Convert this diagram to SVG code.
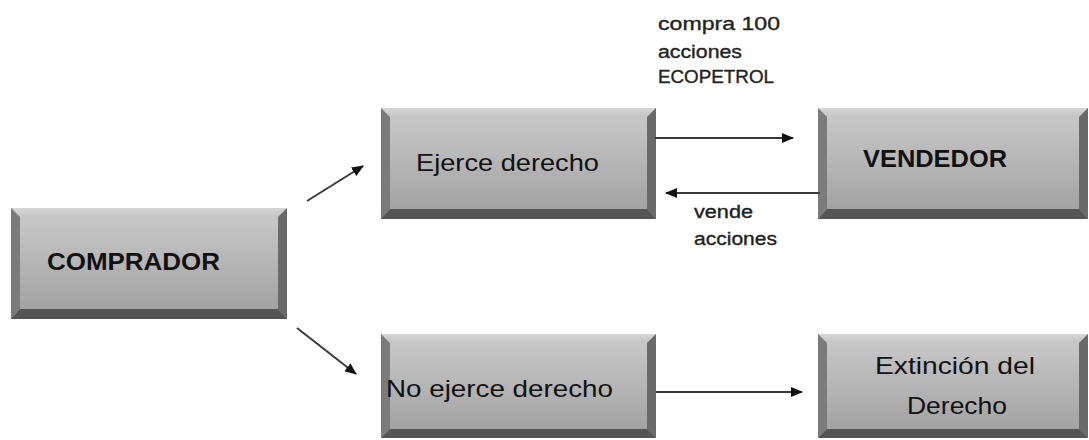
<svg xmlns="http://www.w3.org/2000/svg" width="1089" height="440" viewBox="0 0 1089 440">
<defs>
<linearGradient id="face" x1="0" y1="0" x2="0" y2="1">
<stop offset="0" stop-color="#cbcbcb"/>
<stop offset="1" stop-color="#9f9f9f"/>
</linearGradient>
<linearGradient id="topg" x1="0" y1="0" x2="0" y2="1">
<stop offset="0" stop-color="#d6d6d6"/>
<stop offset="1" stop-color="#c4c4c4"/>
</linearGradient>
<marker id="ah" markerUnits="userSpaceOnUse" markerWidth="12" markerHeight="10" viewBox="0 0 12 10" refX="11" refY="5" orient="auto">
<path d="M0,0 L12,5 L0,10 Z" fill="#111"/>
</marker>
<style>
.face{fill:url(#face)}
.bt{fill:url(#topg)}
.bl{fill:#7b7b7b}
.br{fill:#6a6a6a}
.bb{fill:#555555}
.lbl{font-family:"Liberation Sans",Arial,sans-serif;font-size:24px;fill:#111}
.bold{font-weight:bold}
.small{font-family:"Liberation Sans",Arial,sans-serif;font-size:18px;fill:#222;stroke:#222;stroke-width:0.35}
.con{stroke:#3a3a3a;stroke-width:2;fill:none;marker-end:url(#ah)}
</style>
</defs>
<rect width="1089" height="440" fill="#ffffff"/>

<g id="comprador">
<rect class="face" x="11" y="208" width="276" height="111"/>
<polygon class="bt" points="11,208 287,208 278,217 20,217"/>
<polygon class="bl" points="11,208 20,217 20,309 11,319"/>
<polygon class="br" points="287,208 287,319 278,309 278,217"/>
<polygon class="bb" points="11,319 20,309 278,309 287,319"/>
<text class="lbl bold" x="47" y="270" textLength="173" lengthAdjust="spacingAndGlyphs">COMPRADOR</text>
</g>

<g id="ejerce">
<rect class="face" x="381" y="108" width="275" height="111"/>
<polygon class="bt" points="381,108 656,108 647,117 390,117"/>
<polygon class="bl" points="381,108 390,117 390,209 381,219"/>
<polygon class="br" points="656,108 656,219 647,209 647,117"/>
<polygon class="bb" points="381,219 390,209 647,209 656,219"/>
<text class="lbl" x="416" y="171" textLength="183" lengthAdjust="spacingAndGlyphs">Ejerce derecho</text>
</g>

<g id="vendedor">
<rect class="face" x="818" y="108" width="270" height="111"/>
<polygon class="bt" points="818,108 1088,108 1079,117 827,117"/>
<polygon class="bl" points="818,108 827,117 827,209 818,219"/>
<polygon class="br" points="1088,108 1088,219 1079,209 1079,117"/>
<polygon class="bb" points="818,219 827,209 1079,209 1088,219"/>
<text class="lbl bold" x="863" y="167" textLength="144" lengthAdjust="spacingAndGlyphs">VENDEDOR</text>
</g>

<g id="noejerce">
<rect class="face" x="381" y="334" width="275" height="104"/>
<polygon class="bt" points="381,334 656,334 647,343 390,343"/>
<polygon class="bl" points="381,334 390,343 390,429 381,438"/>
<polygon class="br" points="656,334 656,438 647,429 647,343"/>
<polygon class="bb" points="381,438 390,429 647,429 656,438"/>
<text class="lbl" x="386" y="397" textLength="227" lengthAdjust="spacingAndGlyphs">No ejerce derecho</text>
</g>

<g id="extincion">
<rect class="face" x="818" y="334" width="270" height="104"/>
<polygon class="bt" points="818,334 1088,334 1079,343 827,343"/>
<polygon class="bl" points="818,334 827,343 827,429 818,438"/>
<polygon class="br" points="1088,334 1088,438 1079,429 1079,343"/>
<polygon class="bb" points="818,438 827,429 1079,429 1088,438"/>
<text class="lbl" x="875" y="374" textLength="160" lengthAdjust="spacingAndGlyphs">Extinción del</text>
<text class="lbl" x="907" y="414" textLength="100" lengthAdjust="spacingAndGlyphs">Derecho</text>
</g>

<g id="connectors">
<line class="con" x1="307" y1="201" x2="363" y2="166"/>
<line class="con" x1="297" y1="328" x2="356" y2="374"/>
<line class="con" x1="655" y1="138" x2="793" y2="138"/>
<line class="con" x1="820" y1="193" x2="666" y2="193"/>
<line class="con" x1="656" y1="392" x2="802" y2="392"/>
</g>

<g id="labels">
<text class="small" x="658" y="30" textLength="122" lengthAdjust="spacingAndGlyphs">compra 100</text>
<text class="small" x="658" y="58" textLength="84" lengthAdjust="spacingAndGlyphs">acciones</text>
<text class="small" x="658" y="83" textLength="116" lengthAdjust="spacingAndGlyphs">ECOPETROL</text>
<text class="small" x="694" y="218" textLength="59" lengthAdjust="spacingAndGlyphs">vende</text>
<text class="small" x="694" y="245" textLength="83" lengthAdjust="spacingAndGlyphs">acciones</text>
</g>
</svg>
